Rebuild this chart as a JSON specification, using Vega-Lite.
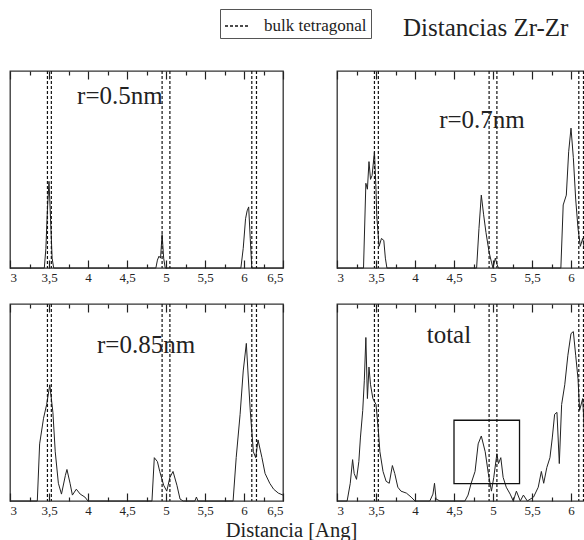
{
  "$schema": "https://vega.github.io/schema/vega-lite/v6.json",
  "padding": {"left": 7, "top": 8, "right": 0, "bottom": 0},
  "background": "white",
  "config": {
    "view": {"stroke": "#333", "strokeWidth": 1.3},
    "axis": {"zindex": 2, "labelFont": "Liberation Serif", "labelFontSize": 13, "labelColor": "#222", "ticks": true, "tickColor": "#222", "tickWidth": 1.2, "tickOpacity": 1, "domain": false, "grid": false, "title": null}
  },
  "datasets": {
    "lines": [
      {"panel": "a", "x": 3, "y": 0}, {"panel": "a", "x": 3.44, "y": 0}, {"panel": "a", "x": 3.46, "y": 0.1}, {"panel": "a", "x": 3.48, "y": 0.3}, {"panel": "a", "x": 3.5, "y": 0.44}, {"panel": "a", "x": 3.52, "y": 0.25}, {"panel": "a", "x": 3.54, "y": 0.05}, {"panel": "a", "x": 3.56, "y": 0},
      {"panel": "a", "x": 4.87, "y": 0}, {"panel": "a", "x": 4.89, "y": 0.04}, {"panel": "a", "x": 4.91, "y": 0.06}, {"panel": "a", "x": 4.93, "y": 0.05}, {"panel": "a", "x": 4.95, "y": 0.17}, {"panel": "a", "x": 4.97, "y": 0.05}, {"panel": "a", "x": 4.99, "y": 0},
      {"panel": "a", "x": 5.96, "y": 0}, {"panel": "a", "x": 5.99, "y": 0.1}, {"panel": "a", "x": 6.02, "y": 0.25}, {"panel": "a", "x": 6.04, "y": 0.29}, {"panel": "a", "x": 6.06, "y": 0.31}, {"panel": "a", "x": 6.08, "y": 0.15}, {"panel": "a", "x": 6.1, "y": 0}, {"panel": "a", "x": 6.5, "y": 0},

      {"panel": "b", "x": 3, "y": 0}, {"panel": "b", "x": 3.34, "y": 0}, {"panel": "b", "x": 3.37, "y": 0.43}, {"panel": "b", "x": 3.39, "y": 0.4}, {"panel": "b", "x": 3.41, "y": 0.54}, {"panel": "b", "x": 3.43, "y": 0.45}, {"panel": "b", "x": 3.45, "y": 0.47}, {"panel": "b", "x": 3.48, "y": 0.59}, {"panel": "b", "x": 3.5, "y": 0.4}, {"panel": "b", "x": 3.51, "y": 0.26}, {"panel": "b", "x": 3.54, "y": 0.11}, {"panel": "b", "x": 3.57, "y": 0.15}, {"panel": "b", "x": 3.6, "y": 0.14}, {"panel": "b", "x": 3.62, "y": 0.05}, {"panel": "b", "x": 3.64, "y": 0},
      {"panel": "b", "x": 4.79, "y": 0}, {"panel": "b", "x": 4.82, "y": 0.2}, {"panel": "b", "x": 4.85, "y": 0.37}, {"panel": "b", "x": 4.88, "y": 0.27}, {"panel": "b", "x": 4.91, "y": 0.18}, {"panel": "b", "x": 4.95, "y": 0.08}, {"panel": "b", "x": 4.98, "y": 0.03}, {"panel": "b", "x": 5.0, "y": 0}, {"panel": "b", "x": 5.03, "y": 0.05}, {"panel": "b", "x": 5.05, "y": 0.02}, {"panel": "b", "x": 5.07, "y": 0},
      {"panel": "b", "x": 5.87, "y": 0}, {"panel": "b", "x": 5.9, "y": 0.32}, {"panel": "b", "x": 5.94, "y": 0.37}, {"panel": "b", "x": 5.97, "y": 0.59}, {"panel": "b", "x": 6.0, "y": 0.71}, {"panel": "b", "x": 6.03, "y": 0.56}, {"panel": "b", "x": 6.06, "y": 0.35}, {"panel": "b", "x": 6.09, "y": 0.2}, {"panel": "b", "x": 6.12, "y": 0.11}, {"panel": "b", "x": 6.15, "y": 0.15}, {"panel": "b", "x": 6.18, "y": 0.08}, {"panel": "b", "x": 6.25, "y": 0.04}, {"panel": "b", "x": 6.3, "y": 0}, {"panel": "b", "x": 6.5, "y": 0},

      {"panel": "c", "x": 3, "y": 0}, {"panel": "c", "x": 3.35, "y": 0}, {"panel": "c", "x": 3.38, "y": 0.29}, {"panel": "c", "x": 3.43, "y": 0.42}, {"panel": "c", "x": 3.47, "y": 0.49}, {"panel": "c", "x": 3.51, "y": 0.59}, {"panel": "c", "x": 3.55, "y": 0.45}, {"panel": "c", "x": 3.58, "y": 0.25}, {"panel": "c", "x": 3.62, "y": 0.09}, {"panel": "c", "x": 3.66, "y": 0.035}, {"panel": "c", "x": 3.71, "y": 0.13}, {"panel": "c", "x": 3.73, "y": 0.16}, {"panel": "c", "x": 3.77, "y": 0.09}, {"panel": "c", "x": 3.8, "y": 0.03}, {"panel": "c", "x": 3.85, "y": 0.06}, {"panel": "c", "x": 3.9, "y": 0.035}, {"panel": "c", "x": 3.96, "y": 0.02}, {"panel": "c", "x": 4.0, "y": 0},
      {"panel": "c", "x": 4.82, "y": 0}, {"panel": "c", "x": 4.85, "y": 0.22}, {"panel": "c", "x": 4.89, "y": 0.2}, {"panel": "c", "x": 4.92, "y": 0.15}, {"panel": "c", "x": 4.97, "y": 0.08}, {"panel": "c", "x": 5.01, "y": 0.05}, {"panel": "c", "x": 5.05, "y": 0.12}, {"panel": "c", "x": 5.09, "y": 0.15}, {"panel": "c", "x": 5.14, "y": 0.08}, {"panel": "c", "x": 5.18, "y": 0.01}, {"panel": "c", "x": 5.22, "y": 0}, {"panel": "c", "x": 5.37, "y": 0}, {"panel": "c", "x": 5.39, "y": 0.02}, {"panel": "c", "x": 5.41, "y": 0},
      {"panel": "c", "x": 5.86, "y": 0}, {"panel": "c", "x": 5.9, "y": 0.22}, {"panel": "c", "x": 5.95, "y": 0.44}, {"panel": "c", "x": 5.99, "y": 0.66}, {"panel": "c", "x": 6.03, "y": 0.8}, {"panel": "c", "x": 6.05, "y": 0.66}, {"panel": "c", "x": 6.08, "y": 0.46}, {"panel": "c", "x": 6.12, "y": 0.25}, {"panel": "c", "x": 6.15, "y": 0.22}, {"panel": "c", "x": 6.18, "y": 0.31}, {"panel": "c", "x": 6.23, "y": 0.22}, {"panel": "c", "x": 6.27, "y": 0.14}, {"panel": "c", "x": 6.33, "y": 0.09}, {"panel": "c", "x": 6.38, "y": 0.06}, {"panel": "c", "x": 6.44, "y": 0.04}, {"panel": "c", "x": 6.5, "y": 0.03},

      {"panel": "d", "x": 3, "y": 0}, {"panel": "d", "x": 3.13, "y": 0}, {"panel": "d", "x": 3.17, "y": 0.09}, {"panel": "d", "x": 3.2, "y": 0.21}, {"panel": "d", "x": 3.22, "y": 0.14}, {"panel": "d", "x": 3.25, "y": 0.11}, {"panel": "d", "x": 3.28, "y": 0.2}, {"panel": "d", "x": 3.3, "y": 0.32}, {"panel": "d", "x": 3.33, "y": 0.46}, {"panel": "d", "x": 3.35, "y": 0.61}, {"panel": "d", "x": 3.37, "y": 0.83}, {"panel": "d", "x": 3.39, "y": 0.52}, {"panel": "d", "x": 3.41, "y": 0.68}, {"panel": "d", "x": 3.43, "y": 0.59}, {"panel": "d", "x": 3.46, "y": 0.52}, {"panel": "d", "x": 3.5, "y": 0.49}, {"panel": "d", "x": 3.53, "y": 0.36}, {"panel": "d", "x": 3.55, "y": 0.25}, {"panel": "d", "x": 3.59, "y": 0.15}, {"panel": "d", "x": 3.63, "y": 0.1}, {"panel": "d", "x": 3.67, "y": 0.09}, {"panel": "d", "x": 3.71, "y": 0.18}, {"panel": "d", "x": 3.74, "y": 0.14}, {"panel": "d", "x": 3.78, "y": 0.07}, {"panel": "d", "x": 3.82, "y": 0.05}, {"panel": "d", "x": 3.89, "y": 0.04}, {"panel": "d", "x": 3.95, "y": 0.02}, {"panel": "d", "x": 4.0, "y": 0},
      {"panel": "d", "x": 4.19, "y": 0}, {"panel": "d", "x": 4.23, "y": 0.035}, {"panel": "d", "x": 4.25, "y": 0.09}, {"panel": "d", "x": 4.27, "y": 0.01}, {"panel": "d", "x": 4.32, "y": 0},
      {"panel": "d", "x": 4.64, "y": 0}, {"panel": "d", "x": 4.68, "y": 0.03}, {"panel": "d", "x": 4.72, "y": 0.09}, {"panel": "d", "x": 4.77, "y": 0.15}, {"panel": "d", "x": 4.81, "y": 0.29}, {"panel": "d", "x": 4.85, "y": 0.33}, {"panel": "d", "x": 4.9, "y": 0.25}, {"panel": "d", "x": 4.94, "y": 0.14}, {"panel": "d", "x": 4.98, "y": 0.05}, {"panel": "d", "x": 5.01, "y": 0.12}, {"panel": "d", "x": 5.05, "y": 0.24}, {"panel": "d", "x": 5.07, "y": 0.19}, {"panel": "d", "x": 5.1, "y": 0.22}, {"panel": "d", "x": 5.13, "y": 0.12}, {"panel": "d", "x": 5.17, "y": 0.07}, {"panel": "d", "x": 5.22, "y": 0.035}, {"panel": "d", "x": 5.26, "y": 0}, {"panel": "d", "x": 5.3, "y": 0.05}, {"panel": "d", "x": 5.35, "y": 0}, {"panel": "d", "x": 5.39, "y": 0.03}, {"panel": "d", "x": 5.44, "y": 0}, {"panel": "d", "x": 5.52, "y": 0.02}, {"panel": "d", "x": 5.58, "y": 0.07}, {"panel": "d", "x": 5.62, "y": 0.15}, {"panel": "d", "x": 5.65, "y": 0.09}, {"panel": "d", "x": 5.69, "y": 0.17}, {"panel": "d", "x": 5.73, "y": 0.22}, {"panel": "d", "x": 5.76, "y": 0.32}, {"panel": "d", "x": 5.79, "y": 0.44}, {"panel": "d", "x": 5.82, "y": 0.45}, {"panel": "d", "x": 5.85, "y": 0.19}, {"panel": "d", "x": 5.88, "y": 0.49}, {"panel": "d", "x": 5.92, "y": 0.59}, {"panel": "d", "x": 5.96, "y": 0.74}, {"panel": "d", "x": 6.0, "y": 0.85}, {"panel": "d", "x": 6.03, "y": 0.86}, {"panel": "d", "x": 6.06, "y": 0.74}, {"panel": "d", "x": 6.09, "y": 0.62}, {"panel": "d", "x": 6.11, "y": 0.46}, {"panel": "d", "x": 6.15, "y": 0.52}, {"panel": "d", "x": 6.18, "y": 0.29}, {"panel": "d", "x": 6.25, "y": 0.2}, {"panel": "d", "x": 6.35, "y": 0.1}, {"panel": "d", "x": 6.5, "y": 0.05}
    ],
    "bulk": [{"d": 3.48}, {"d": 3.53}, {"d": 4.95}, {"d": 5.05}, {"d": 6.1}, {"d": 6.16}]
  },
  "columns": 2,
  "spacing": {"row": 36, "column": 54},
  "bounds": "flush",
  "concat": [
    {
      "width": 273, "height": 197,
      "layer": [
        {"data": {"name": "lines"}, "transform": [{"filter": "datum.panel === 'a'"}],
         "mark": {"type": "line", "color": "#222", "strokeWidth": 1},
         "encoding": {
           "x": {"field": "x", "type": "quantitative", "scale": {"domain": [3, 6.5], "nice": false, "zero": false},
                 "axis": {"orient": "bottom", "offset": -8, "values": [3, 3.25, 3.5, 3.75, 4, 4.25, 4.5, 4.75, 5, 5.25, 5.5, 5.75, 6, 6.25, 6.5], "labelExpr": "datum.value % 0.5 == 0 ? replace(toString(datum.value), '.', ',') : ''", "tickSize": 8, "tickDash": {"condition": {"test": "datum.value % 0.5 != 0", "value": [0, 4, 4, 20]}, "value": [10, 2]}, "labelPadding": 3}},
           "y": {"field": "y", "type": "quantitative", "scale": {"domain": [0, 1]}, "axis": null}}},
        {"data": {"name": "bulk"},
         "mark": {"type": "rule", "color": "#111", "strokeWidth": 1.2},
         "encoding": {
           "x": {"field": "d", "type": "quantitative", "scale": {"domain": [3, 6.5], "nice": false, "zero": false},
                 "axis": {"orient": "top", "offset": -8, "values": [3, 3.25, 3.5, 3.75, 4, 4.25, 4.5, 4.75, 5, 5.25, 5.5, 5.75, 6, 6.25, 6.5], "labels": false, "tickSize": 8, "tickDash": {"condition": {"test": "datum.value % 0.5 != 0", "value": [0, 4, 4, 20]}, "value": [10, 2]}}},
           "strokeDash": {"datum": "bulk tetragonal", "type": "nominal", "scale": {"range": [[3, 2]]},
                          "legend": {"title": null, "orient": "none", "legendX": 210, "legendY": -62, "strokeColor": "#555", "padding": 4, "labelFont": "Liberation Serif", "labelFontSize": 17, "labelColor": "#222", "symbolType": "stroke", "symbolSize": 576, "symbolStrokeWidth": 1.5, "symbolStrokeColor": "#111", "labelOffset": 14}}}},
        {"data": {"values": [{"label": "r=0.5nm"}]},
         "mark": {"type": "text", "font": "Liberation Serif", "fontSize": 25, "align": "left", "baseline": "alphabetic", "color": "#222"},
         "encoding": {
           "x": {"datum": 3.86, "type": "quantitative", "scale": {"domain": [3, 6.5], "nice": false, "zero": false}, "axis": null},
           "y": {"datum": 0.83, "type": "quantitative", "scale": {"domain": [0, 1]}, "axis": null},
           "text": {"field": "label"}}}
      ],
      "resolve": {"axis": {"x": "independent"}}
    },
    {
      "width": 273, "height": 197,
      "layer": [
        {"data": {"name": "lines"}, "transform": [{"filter": "datum.panel === 'b'"}],
         "mark": {"type": "line", "color": "#222", "strokeWidth": 1},
         "encoding": {
           "x": {"field": "x", "type": "quantitative", "scale": {"domain": [3, 6.5], "nice": false, "zero": false},
                 "axis": {"orient": "bottom", "offset": -8, "values": [3, 3.25, 3.5, 3.75, 4, 4.25, 4.5, 4.75, 5, 5.25, 5.5, 5.75, 6, 6.25, 6.5], "labelExpr": "datum.value % 0.5 == 0 ? replace(toString(datum.value), '.', ',') : ''", "tickSize": 8, "tickDash": {"condition": {"test": "datum.value % 0.5 != 0", "value": [0, 4, 4, 20]}, "value": [10, 2]}, "labelPadding": 3}},
           "y": {"field": "y", "type": "quantitative", "scale": {"domain": [0, 1]}, "axis": null}}},
        {"data": {"name": "bulk"},
         "mark": {"type": "rule", "color": "#111", "strokeWidth": 1.2, "strokeDash": [3, 2]},
         "encoding": {
           "x": {"field": "d", "type": "quantitative", "scale": {"domain": [3, 6.5], "nice": false, "zero": false},
                 "axis": {"orient": "top", "offset": -8, "values": [3, 3.25, 3.5, 3.75, 4, 4.25, 4.5, 4.75, 5, 5.25, 5.5, 5.75, 6, 6.25, 6.5], "labels": false, "tickSize": 8, "tickDash": {"condition": {"test": "datum.value % 0.5 != 0", "value": [0, 4, 4, 20]}, "value": [10, 2]}}}}},
        {"data": {"values": [{"label": "r=0.7nm"}]},
         "mark": {"type": "text", "font": "Liberation Serif", "fontSize": 25, "align": "left", "baseline": "alphabetic", "color": "#222"},
         "encoding": {
           "x": {"datum": 4.31, "type": "quantitative", "scale": {"domain": [3, 6.5], "nice": false, "zero": false}, "axis": null},
           "y": {"datum": 0.71, "type": "quantitative", "scale": {"domain": [0, 1]}, "axis": null},
           "text": {"field": "label"}}},
        {"data": {"values": [{"label": "Distancias Zr-Zr"}]},
         "mark": {"type": "text", "font": "Liberation Serif", "fontSize": 25, "align": "left", "baseline": "alphabetic", "color": "#222"},
         "encoding": {
           "x": {"datum": 3.846, "type": "quantitative", "scale": {"domain": [3, 6.5], "nice": false, "zero": false}, "axis": null},
           "y": {"datum": 1.178, "type": "quantitative", "scale": {"domain": [0, 1]}, "axis": null},
           "text": {"field": "label"}}}
      ],
      "resolve": {"axis": {"x": "independent"}}
    },
    {
      "width": 273, "height": 197,
      "layer": [
        {"data": {"name": "lines"}, "transform": [{"filter": "datum.panel === 'c'"}],
         "mark": {"type": "line", "color": "#222", "strokeWidth": 1},
         "encoding": {
           "x": {"field": "x", "type": "quantitative", "scale": {"domain": [3, 6.5], "nice": false, "zero": false},
                 "axis": {"orient": "bottom", "offset": -8, "values": [3, 3.25, 3.5, 3.75, 4, 4.25, 4.5, 4.75, 5, 5.25, 5.5, 5.75, 6, 6.25, 6.5], "labelExpr": "datum.value % 0.5 == 0 ? replace(toString(datum.value), '.', ',') : ''", "tickSize": 8, "tickDash": {"condition": {"test": "datum.value % 0.5 != 0", "value": [0, 4, 4, 20]}, "value": [10, 2]}, "labelPadding": 3,
                          "title": "Distancia [Ang]", "titleFont": "Liberation Serif", "titleFontSize": 20.5, "titleFontWeight": "normal", "titleColor": "#222", "titleX": 281, "titleY": 43, "titleAlign": "center", "titleBaseline": "alphabetic"}},
           "y": {"field": "y", "type": "quantitative", "scale": {"domain": [0, 1]}, "axis": null}}},
        {"data": {"name": "bulk"},
         "mark": {"type": "rule", "color": "#111", "strokeWidth": 1.2, "strokeDash": [3, 2]},
         "encoding": {
           "x": {"field": "d", "type": "quantitative", "scale": {"domain": [3, 6.5], "nice": false, "zero": false},
                 "axis": {"orient": "top", "offset": -8, "values": [3, 3.25, 3.5, 3.75, 4, 4.25, 4.5, 4.75, 5, 5.25, 5.5, 5.75, 6, 6.25, 6.5], "labels": false, "tickSize": 8, "tickDash": {"condition": {"test": "datum.value % 0.5 != 0", "value": [0, 4, 4, 20]}, "value": [10, 2]}}}}},
        {"data": {"values": [{"label": "r=0.85nm"}]},
         "mark": {"type": "text", "font": "Liberation Serif", "fontSize": 25, "align": "left", "baseline": "alphabetic", "color": "#222"},
         "encoding": {
           "x": {"datum": 4.115, "type": "quantitative", "scale": {"domain": [3, 6.5], "nice": false, "zero": false}, "axis": null},
           "y": {"datum": 0.75, "type": "quantitative", "scale": {"domain": [0, 1]}, "axis": null},
           "text": {"field": "label"}}}
      ],
      "resolve": {"axis": {"x": "independent"}}
    },
    {
      "width": 273, "height": 197,
      "layer": [
        {"data": {"name": "lines"}, "transform": [{"filter": "datum.panel === 'd'"}],
         "mark": {"type": "line", "color": "#222", "strokeWidth": 1},
         "encoding": {
           "x": {"field": "x", "type": "quantitative", "scale": {"domain": [3, 6.5], "nice": false, "zero": false},
                 "axis": {"orient": "bottom", "offset": -8, "values": [3, 3.25, 3.5, 3.75, 4, 4.25, 4.5, 4.75, 5, 5.25, 5.5, 5.75, 6, 6.25, 6.5], "labelExpr": "datum.value % 0.5 == 0 ? replace(toString(datum.value), '.', ',') : ''", "tickSize": 8, "tickDash": {"condition": {"test": "datum.value % 0.5 != 0", "value": [0, 4, 4, 20]}, "value": [10, 2]}, "labelPadding": 3}},
           "y": {"field": "y", "type": "quantitative", "scale": {"domain": [0, 1]}, "axis": null}}},
        {"data": {"name": "bulk"},
         "mark": {"type": "rule", "color": "#111", "strokeWidth": 1.2, "strokeDash": [3, 2]},
         "encoding": {
           "x": {"field": "d", "type": "quantitative", "scale": {"domain": [3, 6.5], "nice": false, "zero": false},
                 "axis": {"orient": "top", "offset": -8, "values": [3, 3.25, 3.5, 3.75, 4, 4.25, 4.5, 4.75, 5, 5.25, 5.5, 5.75, 6, 6.25, 6.5], "labels": false, "tickSize": 8, "tickDash": {"condition": {"test": "datum.value % 0.5 != 0", "value": [0, 4, 4, 20]}, "value": [10, 2]}}}}},
        {"data": {"values": [{"label": "total"}]},
         "mark": {"type": "text", "font": "Liberation Serif", "fontSize": 25, "align": "left", "baseline": "alphabetic", "color": "#222"},
         "encoding": {
           "x": {"datum": 4.15, "type": "quantitative", "scale": {"domain": [3, 6.5], "nice": false, "zero": false}, "axis": null},
           "y": {"datum": 0.8, "type": "quantitative", "scale": {"domain": [0, 1]}, "axis": null},
           "text": {"field": "label"}}},
        {"data": {"values": [{"box": "inset"}]},
         "mark": {"type": "rect", "filled": false, "stroke": "#111", "strokeWidth": 1.3},
         "encoding": {
           "x": {"datum": 4.5, "type": "quantitative", "scale": {"domain": [3, 6.5], "nice": false, "zero": false}, "axis": null},
           "x2": {"datum": 5.34},
           "y": {"datum": 0.41, "type": "quantitative", "scale": {"domain": [0, 1]}, "axis": null},
           "y2": {"datum": 0.088}}}
      ],
      "resolve": {"axis": {"x": "independent"}}
    }
  ]
}
